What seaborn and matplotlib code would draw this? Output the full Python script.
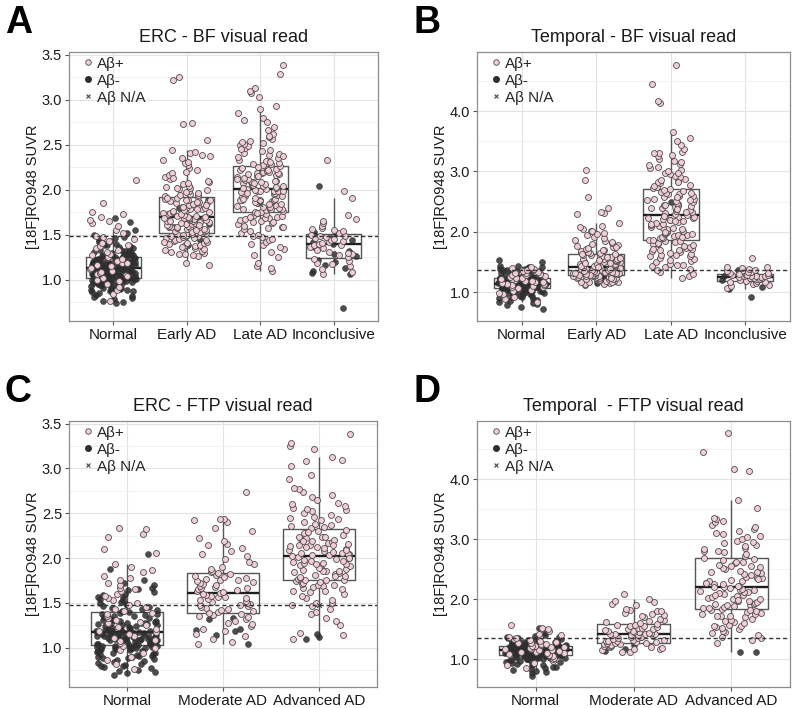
import numpy as np
import pandas as pd
import matplotlib
matplotlib.use("Agg")
import matplotlib.pyplot as plt
from matplotlib.lines import Line2D
from matplotlib.ticker import MultipleLocator, FormatStrFormatter
import seaborn as sns

# ---- values (SUVR per subject, grouped by visual read) ----
bf_groups = ["Normal", "Early AD", "Late AD", "Inconclusive"]
ftp_groups = ["Normal", "Moderate AD", "Advanced AD"]

# A: ERC - BF visual read
a_normal_neg = [0.74, 0.75, 0.76, 0.78, 0.80, 0.82, 0.83, 0.85, 0.86, 0.87, 0.88, 0.89, 0.90, 0.91,
                0.91, 0.92, 0.93, 0.93, 0.94, 0.95, 0.96, 0.96, 0.97, 0.97, 0.98, 0.98, 0.99, 1.00,
                1.00, 1.01, 1.01, 1.02, 1.02, 1.02, 1.03, 1.03, 1.04, 1.04, 1.05, 1.05, 1.05, 1.06,
                1.06, 1.07, 1.07, 1.08, 1.08, 1.08, 1.09, 1.09, 1.10, 1.10, 1.10, 1.11, 1.11, 1.11,
                1.12, 1.12, 1.12, 1.13, 1.13, 1.13, 1.14, 1.14, 1.15, 1.15, 1.16, 1.16, 1.16, 1.17,
                1.17, 1.18, 1.18, 1.19, 1.19, 1.19, 1.20, 1.20, 1.21, 1.21, 1.22, 1.22, 1.23, 1.24,
                1.24, 1.25, 1.25, 1.26, 1.27, 1.28, 1.29, 1.30, 1.31, 1.32, 1.33, 1.35, 1.36, 1.38,
                1.40, 1.42, 1.44, 1.47, 1.52, 1.55, 1.64, 1.68,
                0.81, 0.84, 0.87, 0.89, 0.90, 0.92, 0.94, 0.95, 0.96, 0.97, 0.98, 0.99, 0.99, 1.00,
                1.01, 1.01, 1.02, 1.03, 1.03, 1.04, 1.04, 1.05, 1.06, 1.06, 1.07, 1.07, 1.08, 1.08,
                1.09, 1.09, 1.10, 1.10, 1.11, 1.11, 1.12, 1.12, 1.13, 1.13, 1.14, 1.14, 1.15, 1.15,
                1.16, 1.16, 1.17, 1.17, 1.18, 1.18, 1.19, 1.20, 1.20, 1.21, 1.22, 1.23, 1.23, 1.24,
                1.25, 1.26, 1.27, 1.28, 1.30, 1.31, 1.33, 1.34, 1.37, 1.39, 1.41, 1.43, 1.46, 1.50]
a_normal_pos = [0.76, 0.84, 0.88, 0.92, 0.95, 0.98, 1.00, 1.02, 1.04, 1.06, 1.07, 1.09, 1.10, 1.12,
                1.13, 1.15, 1.16, 1.18, 1.19, 1.21, 1.23, 1.25, 1.27, 1.29, 1.31, 1.33, 1.35, 1.37,
                1.39, 1.41, 1.43, 1.45, 1.47, 1.49, 1.52, 1.55, 1.60, 1.63, 1.65, 1.66, 1.70, 1.73,
                1.75, 1.85, 2.11]
a_early_pos = [1.16, 1.19, 1.26, 1.27, 1.29, 1.30, 1.31, 1.32, 1.33, 1.34, 1.35, 1.36, 1.37, 1.38,
               1.39, 1.40, 1.41, 1.41, 1.42, 1.43, 1.44, 1.44, 1.45, 1.46, 1.47, 1.47, 1.48, 1.49,
               1.50, 1.50, 1.51, 1.52, 1.52, 1.53, 1.54, 1.54, 1.55, 1.56, 1.56, 1.57, 1.58, 1.58,
               1.59, 1.60, 1.60, 1.61, 1.62, 1.62, 1.63, 1.64, 1.64, 1.65, 1.65, 1.66, 1.67, 1.67,
               1.68, 1.69, 1.69, 1.70, 1.71, 1.72, 1.72, 1.73, 1.74, 1.74, 1.75, 1.76, 1.77, 1.78,
               1.79, 1.80, 1.80, 1.81, 1.82, 1.83, 1.84, 1.85, 1.85, 1.86, 1.87, 1.88, 1.89, 1.90,
               1.91, 1.92, 1.93, 1.94, 1.95, 1.96, 1.98, 2.00, 2.01, 2.02, 2.03, 2.04, 2.06, 2.08,
               2.10, 2.12, 2.14, 2.16, 2.19, 2.22, 2.24, 2.27, 2.30, 2.33, 2.35, 2.37, 2.39, 2.41,
               2.44, 2.55, 2.73, 2.74, 3.22, 3.25,
               1.28, 1.36, 1.42, 1.46, 1.49, 1.51, 1.53, 1.55, 1.57, 1.59, 1.61, 1.63, 1.65, 1.66,
               1.68, 1.70, 1.71, 1.73, 1.75, 1.77, 1.79, 1.81, 1.83, 1.86, 1.88, 1.91, 1.94, 1.97,
               2.02, 2.07, 2.13, 2.20, 2.31, 2.42]
a_early_neg = [1.33, 1.38, 1.44, 1.58, 1.62, 1.66, 1.80, 1.89]
a_late_pos = [1.10, 1.13, 1.15, 1.18, 1.25, 1.27, 1.31, 1.34, 1.36, 1.38, 1.40, 1.42, 1.44, 1.47,
              1.49, 1.50, 1.52, 1.54, 1.56, 1.57, 1.59, 1.60, 1.62, 1.63, 1.64, 1.65, 1.66, 1.67,
              1.68, 1.69, 1.70, 1.71, 1.72, 1.73, 1.74, 1.75, 1.75, 1.76, 1.77, 1.78, 1.79, 1.79,
              1.80, 1.81, 1.82, 1.83, 1.84, 1.85, 1.85, 1.86, 1.87, 1.88, 1.88, 1.89, 1.89, 1.90,
              1.91, 1.92, 1.93, 1.94, 1.95, 1.95, 1.96, 1.97, 1.98, 1.98, 1.99, 1.99, 2.00, 2.01,
              2.01, 2.02, 2.03, 2.04, 2.05, 2.05, 2.06, 2.07, 2.08, 2.08, 2.09, 2.09, 2.10, 2.11,
              2.12, 2.13, 2.14, 2.15, 2.16, 2.17, 2.18, 2.18, 2.19, 2.19, 2.20, 2.21, 2.22, 2.23,
              2.24, 2.25, 2.26, 2.27, 2.28, 2.29, 2.30, 2.32, 2.33, 2.35, 2.36, 2.38, 2.40, 2.41,
              2.43, 2.44, 2.46, 2.48, 2.50, 2.51, 2.53, 2.54, 2.56, 2.58, 2.62, 2.66, 2.70, 2.77,
              2.80, 2.85, 2.90, 2.93, 3.03, 3.07, 3.10, 3.13, 3.28, 3.38,
              1.45, 1.58, 1.64, 1.70, 1.74, 1.78, 1.81, 1.84, 1.87, 1.90, 1.93, 1.96, 1.99, 2.02,
              2.04, 2.07, 2.10, 2.12, 2.15, 2.17, 2.20, 2.22, 2.25, 2.31, 2.37, 2.45, 2.52, 2.60,
              2.75]
a_late_na = [1.84]
a_incon_pos = [1.06, 1.09, 1.12, 1.15, 1.17, 1.19, 1.21, 1.23, 1.25, 1.27, 1.28, 1.30, 1.31, 1.33,
               1.35, 1.36, 1.38, 1.39, 1.40, 1.41, 1.42, 1.43, 1.44, 1.45, 1.46, 1.47, 1.48, 1.49,
               1.50, 1.52, 1.54, 1.55, 1.56, 1.57, 1.60, 1.63, 1.65, 1.67, 1.72, 1.91, 1.98, 2.33]
a_incon_neg = [0.68, 1.06, 1.07, 1.10, 1.13, 1.16, 1.20, 1.22, 1.26, 1.29, 1.32, 1.36, 1.40, 1.42,
               1.44, 1.46, 1.48, 1.50, 1.52, 1.53, 2.04]

# B: Temporal - BF visual read
b_normal_neg = [0.72, 0.76, 0.79, 0.82, 0.85, 0.87, 0.89, 0.91, 0.93, 0.94, 0.96, 0.97, 0.98, 0.99,
                1.00, 1.01, 1.02, 1.03, 1.03, 1.04, 1.05, 1.05, 1.05, 1.06, 1.06, 1.07, 1.07, 1.08,
                1.08, 1.08, 1.09, 1.09, 1.09, 1.10, 1.10, 1.10, 1.10, 1.11, 1.11, 1.11, 1.11, 1.12,
                1.12, 1.12, 1.12, 1.13, 1.13, 1.13, 1.13, 1.14, 1.14, 1.14, 1.14, 1.15, 1.15, 1.15,
                1.15, 1.16, 1.16, 1.16, 1.16, 1.17, 1.17, 1.17, 1.18, 1.18, 1.18, 1.18, 1.19, 1.19,
                1.20, 1.20, 1.21, 1.21, 1.22, 1.22, 1.23, 1.23, 1.24, 1.25, 1.25, 1.26, 1.27, 1.28,
                1.29, 1.30, 1.31, 1.32, 1.33, 1.34, 1.35, 1.37, 1.39, 1.41, 1.43, 1.50, 1.53,
                0.80, 0.84, 0.88, 0.90, 0.92, 0.95, 0.97, 0.99, 1.00, 1.01, 1.02, 1.03, 1.04, 1.04,
                1.05, 1.06, 1.06, 1.07, 1.07, 1.08, 1.08, 1.09, 1.09, 1.10, 1.10, 1.11, 1.11, 1.12,
                1.12, 1.13, 1.13, 1.14, 1.14, 1.15, 1.15, 1.16, 1.16, 1.17, 1.17, 1.18, 1.18, 1.19,
                1.19, 1.20, 1.20, 1.21, 1.21, 1.22, 1.23, 1.24, 1.24, 1.25, 1.26, 1.27, 1.28, 1.29,
                1.30, 1.31, 1.33, 1.35, 1.36, 1.38, 1.40, 1.42, 1.44]
b_normal_pos = [0.84, 0.88, 0.92, 0.96, 0.99, 1.02, 1.04, 1.06, 1.08, 1.09, 1.10, 1.11, 1.12, 1.13,
                1.14, 1.15, 1.16, 1.17, 1.18, 1.19, 1.20, 1.21, 1.22, 1.23, 1.24, 1.25, 1.26, 1.27,
                1.28, 1.29, 1.30, 1.31, 1.32, 1.33, 1.35, 1.36, 1.38, 1.40, 1.42]
b_early_pos = [1.12, 1.13, 1.14, 1.15, 1.16, 1.16, 1.17, 1.18, 1.19, 1.19, 1.20, 1.20, 1.21, 1.21,
               1.22, 1.22, 1.23, 1.23, 1.24, 1.24, 1.25, 1.25, 1.25, 1.26, 1.26, 1.27, 1.27, 1.28,
               1.28, 1.29, 1.29, 1.30, 1.30, 1.31, 1.31, 1.31, 1.32, 1.32, 1.32, 1.33, 1.33, 1.34,
               1.34, 1.35, 1.35, 1.36, 1.36, 1.37, 1.37, 1.38, 1.38, 1.39, 1.39, 1.40, 1.40, 1.41,
               1.42, 1.43, 1.43, 1.44, 1.45, 1.45, 1.46, 1.46, 1.47, 1.47, 1.48, 1.49, 1.50, 1.51,
               1.51, 1.52, 1.53, 1.54, 1.55, 1.55, 1.56, 1.57, 1.57, 1.58, 1.59, 1.60, 1.61, 1.62,
               1.63, 1.64, 1.65, 1.66, 1.67, 1.68, 1.70, 1.71, 1.73, 1.74, 1.76, 1.78, 1.80, 1.81,
               1.83, 1.85, 1.87, 1.90, 1.92, 1.94, 1.96, 1.98, 2.01, 2.02, 2.05, 2.08, 2.10, 2.15,
               2.30, 2.31, 2.32, 2.40, 2.57, 2.86, 3.02,
               1.17, 1.21, 1.23, 1.26, 1.28, 1.30, 1.33, 1.35, 1.36, 1.38, 1.41, 1.44, 1.48, 1.53,
               1.58, 1.63, 1.69, 1.75]
b_early_neg = [1.15, 1.17, 1.18, 1.20, 1.24, 1.28]
b_late_pos = [1.23, 1.27, 1.30, 1.33, 1.36, 1.39, 1.41, 1.43, 1.45, 1.47, 1.49, 1.51, 1.53, 1.55,
              1.57, 1.59, 1.60, 1.62, 1.63, 1.65, 1.66, 1.68, 1.69, 1.70, 1.72, 1.73, 1.75, 1.76,
              1.78, 1.79, 1.80, 1.82, 1.83, 1.85, 1.86, 1.87, 1.89, 1.90, 1.91, 1.93, 1.94, 1.95,
              1.96, 1.97, 1.98, 1.99, 2.01, 2.02, 2.04, 2.05, 2.07, 2.08, 2.10, 2.11, 2.13, 2.14,
              2.16, 2.17, 2.19, 2.20, 2.21, 2.22, 2.24, 2.25, 2.27, 2.28, 2.30, 2.31, 2.33, 2.34,
              2.36, 2.37, 2.39, 2.40, 2.41, 2.42, 2.43, 2.44, 2.46, 2.48, 2.49, 2.51, 2.52, 2.54,
              2.55, 2.57, 2.59, 2.60, 2.62, 2.63, 2.65, 2.66, 2.68, 2.70, 2.72, 2.74, 2.76, 2.78,
              2.80, 2.82, 2.84, 2.86, 2.88, 2.91, 2.93, 2.95, 2.97, 3.00, 3.03, 3.05, 3.08, 3.12,
              3.15, 3.18, 3.21, 3.25, 3.28, 3.31, 3.33, 3.37, 3.43, 3.50, 3.55, 3.66, 4.13, 4.17,
              4.45, 4.77,
              1.45, 1.62, 1.71, 1.84, 1.92, 2.00, 2.06, 2.12, 2.18, 2.23, 2.26, 2.32, 2.38, 2.45,
              2.53, 2.58, 2.64, 2.71, 2.83, 2.98, 3.10, 3.30]
b_late_neg = [2.50]
b_incon_pos = [1.07, 1.10, 1.12, 1.14, 1.15, 1.16, 1.17, 1.18, 1.19, 1.20, 1.21, 1.22, 1.23, 1.24,
               1.24, 1.25, 1.25, 1.26, 1.26, 1.27, 1.27, 1.28, 1.28, 1.29, 1.29, 1.30, 1.31, 1.32,
               1.33, 1.34, 1.35, 1.36, 1.38, 1.40, 1.41, 1.42, 1.56]
b_incon_neg = [0.92, 1.05, 1.09, 1.18, 1.20, 1.22, 1.23, 1.25, 1.27, 1.30, 1.37]

# C: ERC - FTP visual read
c_normal_neg = [0.69, 0.72, 0.74, 0.75, 0.77, 0.79, 0.81, 0.82, 0.84, 0.86, 0.87, 0.88, 0.90, 0.91,
                0.92, 0.93, 0.94, 0.95, 0.96, 0.97, 0.98, 0.98, 0.99, 1.00, 1.00, 1.01, 1.02, 1.02,
                1.03, 1.03, 1.04, 1.04, 1.05, 1.05, 1.06, 1.06, 1.07, 1.07, 1.08, 1.08, 1.09, 1.09,
                1.10, 1.10, 1.11, 1.11, 1.12, 1.12, 1.13, 1.13, 1.14, 1.14, 1.15, 1.15, 1.16, 1.16,
                1.17, 1.17, 1.18, 1.19, 1.19, 1.20, 1.21, 1.22, 1.23, 1.24, 1.25, 1.26, 1.27, 1.28,
                1.29, 1.30, 1.31, 1.32, 1.34, 1.35, 1.36, 1.38, 1.40, 1.41, 1.43, 1.45, 1.47, 1.49,
                1.51, 1.53, 1.56, 1.59, 1.62, 1.64, 1.65, 1.72, 1.75, 1.88, 2.04,
                0.73, 0.78, 0.80, 0.83, 0.85, 0.88, 0.89, 0.91, 0.93, 0.94, 0.96, 0.97, 0.99, 1.00,
                1.01, 1.02, 1.03, 1.04, 1.05, 1.06, 1.06, 1.07, 1.08, 1.09, 1.10, 1.10, 1.11, 1.12,
                1.12, 1.13, 1.14, 1.15, 1.15, 1.16, 1.17, 1.18, 1.18, 1.19, 1.20, 1.21, 1.22, 1.23,
                1.24, 1.25, 1.26, 1.27, 1.28, 1.30, 1.31, 1.33, 1.35, 1.37, 1.39, 1.42, 1.44, 1.46,
                1.50, 1.54, 1.57, 1.60, 1.66, 1.70]
c_normal_pos = [0.76, 0.82, 0.86, 0.90, 0.94, 0.97, 1.00, 1.02, 1.05, 1.07, 1.09, 1.11, 1.13, 1.15,
                1.17, 1.19, 1.21, 1.23, 1.25, 1.27, 1.29, 1.31, 1.33, 1.35, 1.37, 1.39, 1.41, 1.43,
                1.45, 1.48, 1.50, 1.53, 1.55, 1.58, 1.60, 1.63, 1.65, 1.67, 1.70, 1.72, 1.75, 1.78,
                1.80, 1.84, 1.87, 1.90, 1.93, 2.06, 2.10, 2.23, 2.27, 2.32, 2.33]
c_moderate_pos = [1.04, 1.06, 1.10, 1.13, 1.15, 1.18, 1.21, 1.24, 1.26, 1.28, 1.30, 1.32, 1.34, 1.35,
                  1.36, 1.38, 1.39, 1.40, 1.41, 1.42, 1.43, 1.44, 1.45, 1.46, 1.47, 1.48, 1.49, 1.50,
                  1.51, 1.52, 1.53, 1.54, 1.55, 1.56, 1.57, 1.58, 1.59, 1.60, 1.61, 1.62, 1.63, 1.64,
                  1.65, 1.66, 1.67, 1.68, 1.69, 1.70, 1.71, 1.72, 1.73, 1.74, 1.75, 1.76, 1.77, 1.78,
                  1.79, 1.80, 1.81, 1.82, 1.83, 1.84, 1.86, 1.88, 1.90, 1.93, 1.96, 1.99, 2.02, 2.05,
                  2.08, 2.11, 2.14, 2.16, 2.19, 2.22, 2.30, 2.34, 2.40, 2.43, 2.44, 2.44, 2.74]
c_moderate_neg = [1.04, 1.14, 1.18, 1.20, 1.21, 1.32, 1.33]
c_advanced_pos = [1.10, 1.14, 1.16, 1.25, 1.30, 1.33, 1.37, 1.40, 1.43, 1.46, 1.48, 1.50, 1.53, 1.55,
                  1.58, 1.60, 1.62, 1.63, 1.65, 1.66, 1.68, 1.69, 1.70, 1.71, 1.72, 1.73, 1.74, 1.75,
                  1.76, 1.77, 1.78, 1.79, 1.80, 1.81, 1.82, 1.83, 1.84, 1.85, 1.86, 1.87, 1.88, 1.89,
                  1.90, 1.91, 1.92, 1.93, 1.94, 1.95, 1.96, 1.97, 1.98, 1.99, 2.00, 2.01, 2.02, 2.03,
                  2.04, 2.05, 2.06, 2.07, 2.08, 2.09, 2.10, 2.11, 2.12, 2.13, 2.14, 2.15, 2.16, 2.17,
                  2.18, 2.19, 2.20, 2.21, 2.22, 2.23, 2.24, 2.26, 2.28, 2.30, 2.31, 2.33, 2.35, 2.37,
                  2.38, 2.40, 2.42, 2.44, 2.46, 2.48, 2.50, 2.52, 2.54, 2.56, 2.58, 2.60, 2.62, 2.68,
                  2.70, 2.74, 2.77, 2.78, 2.88, 2.93, 3.03, 3.08, 3.10, 3.13, 3.22, 3.25, 3.28, 3.38,
                  1.50, 1.63, 1.70, 1.75, 1.80, 1.85, 1.89, 1.93, 1.97, 2.00, 2.03, 2.06, 2.09, 2.12,
                  2.15, 2.19, 2.23, 2.29, 2.36, 2.45, 2.55, 2.65]
c_advanced_neg = [1.10, 1.12, 1.15]
c_advanced_na = [1.48]

# D: Temporal - FTP visual read
d_normal_neg = [0.72, 0.77, 0.80, 0.83, 0.86, 0.88, 0.90, 0.92, 0.94, 0.95, 0.97, 0.98, 0.99, 1.00,
                1.01, 1.02, 1.03, 1.04, 1.04, 1.05, 1.05, 1.06, 1.06, 1.07, 1.07, 1.08, 1.08, 1.09,
                1.09, 1.10, 1.10, 1.10, 1.11, 1.11, 1.11, 1.12, 1.12, 1.12, 1.13, 1.13, 1.13, 1.14,
                1.14, 1.14, 1.15, 1.15, 1.15, 1.16, 1.16, 1.16, 1.17, 1.17, 1.17, 1.18, 1.18, 1.18,
                1.19, 1.19, 1.19, 1.20, 1.20, 1.21, 1.21, 1.22, 1.22, 1.23, 1.23, 1.24, 1.25, 1.26,
                1.27, 1.28, 1.29, 1.30, 1.31, 1.32, 1.33, 1.34, 1.35, 1.37, 1.39, 1.44, 1.53,
                0.79, 0.84, 0.87, 0.91, 0.93, 0.96, 0.98, 1.00, 1.01, 1.02, 1.03, 1.04, 1.05, 1.06,
                1.06, 1.07, 1.07, 1.08, 1.08, 1.09, 1.09, 1.10, 1.10, 1.11, 1.11, 1.12, 1.12, 1.13,
                1.13, 1.14, 1.14, 1.15, 1.15, 1.16, 1.16, 1.17, 1.17, 1.18, 1.18, 1.19, 1.19, 1.20,
                1.20, 1.21, 1.22, 1.23, 1.24, 1.25, 1.26, 1.27, 1.28, 1.29, 1.31, 1.33, 1.36, 1.38,
                1.41]
d_normal_pos = [0.86, 0.90, 0.94, 0.97, 1.00, 1.03, 1.05, 1.07, 1.09, 1.10, 1.11, 1.12, 1.13, 1.14,
                1.15, 1.16, 1.17, 1.18, 1.19, 1.20, 1.21, 1.22, 1.23, 1.24, 1.25, 1.26, 1.27, 1.28,
                1.29, 1.30, 1.32, 1.34, 1.36, 1.38, 1.40, 1.43, 1.48, 1.50, 1.52, 1.57]
d_moderate_pos = [1.12, 1.13, 1.15, 1.17, 1.18, 1.19, 1.20, 1.21, 1.22, 1.23, 1.24, 1.25, 1.26, 1.27,
                  1.27, 1.28, 1.29, 1.29, 1.30, 1.30, 1.31, 1.32, 1.33, 1.34, 1.35, 1.36, 1.37, 1.37,
                  1.38, 1.39, 1.40, 1.40, 1.41, 1.41, 1.42, 1.42, 1.43, 1.43, 1.44, 1.44, 1.45, 1.46,
                  1.47, 1.48, 1.49, 1.50, 1.51, 1.52, 1.53, 1.54, 1.55, 1.56, 1.57, 1.58, 1.59, 1.60,
                  1.62, 1.64, 1.66, 1.68, 1.70, 1.72, 1.74, 1.76, 1.78, 1.80, 1.80, 1.82, 1.84, 1.90,
                  1.92, 1.95, 1.97, 2.00, 2.09]
d_moderate_neg = [1.14, 1.18, 1.24, 1.25, 1.27]
d_advanced_pos = [1.28, 1.32, 1.36, 1.38, 1.41, 1.44, 1.46, 1.48, 1.50, 1.52, 1.54, 1.56, 1.58, 1.60,
                  1.62, 1.64, 1.66, 1.68, 1.70, 1.72, 1.73, 1.75, 1.76, 1.78, 1.79, 1.81, 1.82, 1.84,
                  1.85, 1.86, 1.88, 1.89, 1.90, 1.92, 1.93, 1.94, 1.96, 1.97, 1.98, 2.00, 2.01, 2.03,
                  2.04, 2.06, 2.07, 2.09, 2.10, 2.12, 2.13, 2.15, 2.16, 2.18, 2.19, 2.20, 2.22, 2.23,
                  2.25, 2.26, 2.28, 2.30, 2.31, 2.33, 2.35, 2.36, 2.38, 2.40, 2.42, 2.44, 2.46, 2.48,
                  2.50, 2.52, 2.54, 2.56, 2.58, 2.60, 2.62, 2.63, 2.66, 2.69, 2.72, 2.75, 2.78, 2.81,
                  2.84, 2.86, 2.88, 2.91, 2.94, 2.97, 3.00, 3.03, 3.06, 3.09, 3.13, 3.17, 3.20, 3.24,
                  3.28, 3.30, 3.33, 3.35, 3.52, 3.66, 4.13, 4.17, 4.45, 4.77,
                  1.55, 1.72, 1.83, 1.91, 1.99, 2.08, 2.14, 2.21, 2.27, 2.34, 2.45, 2.55, 2.68, 2.80,
                  2.95, 3.10]
d_advanced_neg = [1.12, 1.13]

PINK = "#f1cdd6"
PINK_EDGE = "#4d4d4d"
DARK = "#2e2e2e"


def build_frame(order, pos, neg, na):
    rows = []
    for status, groups in (("neg", neg), ("pos", pos), ("na", na)):
        for grp, vals in zip(order, groups):
            rows += [(grp, v, status) for v in vals]
    return pd.DataFrame(rows, columns=["group", "suvr", "status"])


panels = [
    dict(letter="A", title="ERC - BF visual read", order=bf_groups, cutoff=1.48,
         ylim=(0.54, 3.53), step=0.5,
         df=build_frame(bf_groups,
                        [a_normal_pos, a_early_pos, a_late_pos, a_incon_pos],
                        [a_normal_neg, a_early_neg, [], a_incon_neg],
                        [[], [], a_late_na, []]),
         rect=(69, 52, 309, 269)),
    dict(letter="B", title="Temporal - BF visual read", order=bf_groups, cutoff=1.36,
         ylim=(0.52, 4.98), step=1.0,
         df=build_frame(bf_groups,
                        [b_normal_pos, b_early_pos, b_late_pos, b_incon_pos],
                        [b_normal_neg, b_early_neg, b_late_neg, b_incon_neg],
                        [[], [], [], []]),
         rect=(477, 52, 313, 269)),
    dict(letter="C", title="ERC - FTP visual read", order=ftp_groups, cutoff=1.48,
         ylim=(0.56, 3.53), step=0.5,
         df=build_frame(ftp_groups,
                        [c_normal_pos, c_moderate_pos, c_advanced_pos],
                        [c_normal_neg, c_moderate_neg, c_advanced_neg],
                        [[], [], c_advanced_na]),
         rect=(69, 421, 308, 266)),
    dict(letter="D", title="Temporal  - FTP visual read", order=ftp_groups, cutoff=1.36,
         ylim=(0.54, 4.97), step=1.0,
         df=build_frame(ftp_groups,
                        [d_normal_pos, d_moderate_pos, d_advanced_pos],
                        [d_normal_neg, d_moderate_neg, d_advanced_neg],
                        [[], [], []]),
         rect=(477, 421, 313, 266)),
]

sns.set_theme(style="whitegrid")
plt.rcParams["font.family"] = ["Liberation Sans", "DejaVu Sans"]
np.random.seed(3)

W, H = 796, 708
fig = plt.figure(figsize=(W / 100, H / 100), dpi=100)

for p in panels:
    x0, y0, w, h = p["rect"]
    ax = fig.add_axes([x0 / W, 1 - (y0 + h) / H, w / W, h / H])
    df = p["df"]
    order = p["order"]

    # box first, jittered points on top (as in the original)
    sns.boxplot(data=df, x="group", y="suvr", order=order, width=0.75, fill=False,
                color="#555555", linewidth=1.0, showfliers=False, showcaps=False,
                medianprops=dict(color="#1e1e1e", linewidth=1.7), ax=ax)

    neg = df[df.status == "neg"]
    pos = df[df.status == "pos"]
    na = df[df.status == "na"]
    sns.stripplot(data=neg, x="group", y="suvr", order=order, jitter=0.32, size=4.3,
                  color=DARK, edgecolor=DARK, linewidth=0.4, alpha=0.85, ax=ax, zorder=3)
    sns.stripplot(data=pos, x="group", y="suvr", order=order, jitter=0.32, size=4.3,
                  color=PINK, edgecolor=PINK_EDGE, linewidth=0.6, ax=ax, zorder=3)
    if len(na):
        sns.stripplot(data=na, x="group", y="suvr", order=order, jitter=0.32, size=3.5,
                      marker="x", color="#444444", linewidth=0.8, ax=ax, zorder=3)

    ax.axhline(p["cutoff"], color="#333333", linestyle=(0, (3, 2)), linewidth=1.0, zorder=4)

    ax.set_xlim(-0.6, len(order) - 0.4)
    ax.set_ylim(*p["ylim"])
    ax.yaxis.set_major_locator(MultipleLocator(p["step"]))
    ax.yaxis.set_minor_locator(MultipleLocator(p["step"] / 2))
    ax.yaxis.set_major_formatter(FormatStrFormatter("%.1f"))
    ax.grid(True, which="major", color="#e3e3e3", linewidth=0.8)
    ax.grid(True, which="minor", axis="y", color="#f0f0f0", linewidth=0.6)
    ax.set_axisbelow(True)
    for s in ax.spines.values():
        s.set_color("#8c8c8c")
        s.set_linewidth(0.9)
    ax.tick_params(axis="both", which="major", labelsize=10.5, labelcolor="#1a1a1a",
                   color="#555555", length=3, width=0.8, direction="out", pad=2,
                   bottom=True, left=True)
    ax.tick_params(axis="x", labelsize=11)
    ax.tick_params(which="minor", length=0)
    ax.set_xlabel("")
    ax.set_ylabel("[18F]RO948 SUVR", fontsize=10.5, color="#1a1a1a", labelpad=1)
    ax.set_title(p["title"], fontsize=13, color="#1a1a1a", pad=7)

    handles = [
        Line2D([], [], marker="o", linestyle="", markersize=4, markerfacecolor=PINK,
               markeredgecolor=PINK_EDGE, markeredgewidth=0.6, label="Aβ+"),
        Line2D([], [], marker="o", linestyle="", markersize=4, markerfacecolor=DARK,
               markeredgecolor=DARK, label="Aβ-"),
        Line2D([], [], marker="x", linestyle="", markersize=3, markeredgecolor="#444444",
               markeredgewidth=0.8, label="Aβ N/A"),
    ]
    ax.legend(handles=handles, loc="upper left", bbox_to_anchor=(0.035, 1.0),
              frameon=False, fontsize=11, handlelength=0.5, handletextpad=0.3,
              labelspacing=0.2, borderaxespad=0.1, borderpad=0.2)

    fig.text((x0 - 64) / W, 1 - (y0 - 19) / H, p["letter"], fontsize=27,
             fontweight="bold", color="black", va="baseline", ha="left")

fig.savefig("out.png", dpi=100, facecolor="white")
